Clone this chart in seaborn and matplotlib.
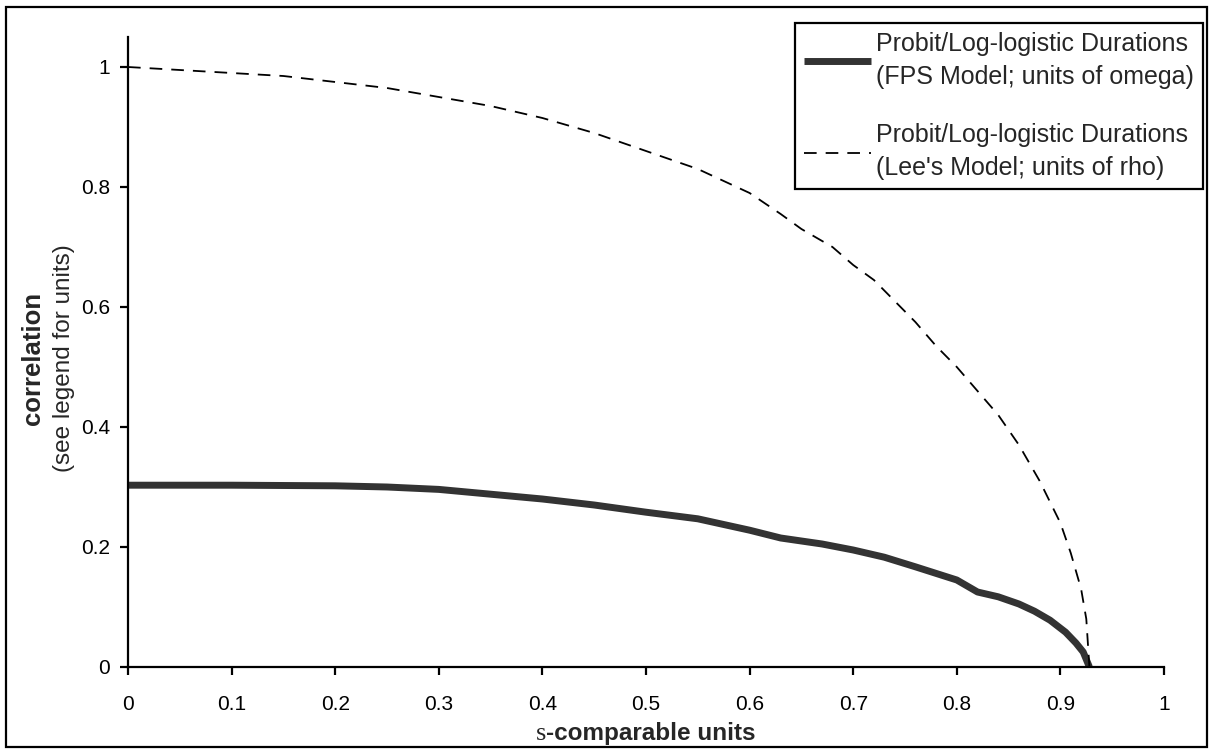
import numpy as np
import pandas as pd
import matplotlib
matplotlib.use("Agg")
import matplotlib.pyplot as plt
import seaborn as sns
from matplotlib.offsetbox import TextArea, HPacker, AnchoredOffsetbox
from matplotlib.patches import Rectangle

# ---- data ----
fps_x = [0.0, 0.1, 0.2, 0.25, 0.3, 0.35, 0.4, 0.45, 0.5, 0.55, 0.6, 0.63, 0.67, 0.7,
         0.73, 0.76, 0.8, 0.82, 0.84, 0.86, 0.875, 0.89, 0.905, 0.915, 0.922, 0.928]
fps_y = [0.303, 0.303, 0.302, 0.300, 0.296, 0.288, 0.280, 0.270, 0.258, 0.247, 0.228,
         0.215, 0.205, 0.195, 0.183, 0.167, 0.145, 0.125, 0.117, 0.105, 0.093, 0.078,
         0.058, 0.040, 0.025, 0.0]
lee_x = [0.0, 0.05, 0.1, 0.15, 0.2, 0.25, 0.3, 0.35, 0.4, 0.45, 0.5, 0.55, 0.6, 0.63,
         0.65, 0.68, 0.7, 0.72, 0.74, 0.76, 0.78, 0.8, 0.82, 0.84, 0.86, 0.88, 0.9,
         0.91, 0.92, 0.925, 0.928]
lee_y = [1.0, 0.995, 0.99, 0.985, 0.975, 0.965, 0.95, 0.935, 0.915, 0.89, 0.86, 0.83,
         0.79, 0.755, 0.73, 0.70, 0.67, 0.645, 0.61, 0.575, 0.535, 0.50, 0.46, 0.42,
         0.37, 0.31, 0.24, 0.19, 0.13, 0.08, 0.0]
fps_label = "Probit/Log-logistic Durations\n(FPS Model; units of omega)"
lee_label = "Probit/Log-logistic Durations\n(Lee's Model; units of rho)"
x_ticks = [0, 0.1, 0.2, 0.3, 0.4, 0.5, 0.6, 0.7, 0.8, 0.9, 1]
x_ticklabels = ["0", "0.1", "0.2", "0.3", "0.4", "0.5", "0.6", "0.7", "0.8", "0.9", "1"]
y_ticks = [0, 0.2, 0.4, 0.6, 0.8, 1]
y_ticklabels = ["0", "0.2", "0.4", "0.6", "0.8", "1"]

sns.set_style("ticks")
plt.rcParams["font.family"] = ["Liberation Sans", "DejaVu Sans"]

W, H = 1214, 753
fig = plt.figure(figsize=(W / 100, H / 100), dpi=100)
ax = fig.add_axes([128 / W, 1 - 667 / H, (1164 - 128) / W, (667 - 37) / H])

df_fps = pd.DataFrame({"x": fps_x, "y": fps_y})
df_lee = pd.DataFrame({"x": lee_x, "y": lee_y})
sns.lineplot(data=df_fps, x="x", y="y", ax=ax, color="#333333", linewidth=5,
             sort=False, label=fps_label, solid_capstyle="butt")
sns.lineplot(data=df_lee, x="x", y="y", ax=ax, color="black", linewidth=1.3,
             sort=False, label=lee_label)
ax.lines[1].set_dashes([7, 5])

ax.set_xlim(0, 1)
ax.set_ylim(0, 1.05)
ax.set_xticks(x_ticks)
ax.set_xticklabels(x_ticklabels)
ax.set_yticks(y_ticks)
ax.set_yticklabels(y_ticklabels)
for s in ["top", "right"]:
    ax.spines[s].set_visible(False)
for s in ["left", "bottom"]:
    ax.spines[s].set_linewidth(1.6)
    ax.spines[s].set_color("black")
ax.tick_params(axis="both", direction="out", length=6, width=1.6, colors="black",
               labelsize=15, pad=7)
ax.tick_params(axis="x", pad=14)
ax.set_xlabel("")
ax.set_ylabel("")

# y label (two lines, different weights)
ax.text(-0.092, 0.49, "correlation", rotation=90, ha="center", va="center",
        fontsize=18.5, fontweight="bold", transform=ax.transAxes)
ax.text(-0.062, 0.49, "(see legend for units)", rotation=90, ha="center",
        va="center", fontsize=17.5, transform=ax.transAxes)

# x label: symbol-font fallback "s" + bold text
ta1 = TextArea("s", textprops=dict(family="Liberation Serif", fontsize=19))
ta2 = TextArea("-comparable units", textprops=dict(fontsize=17.5, fontweight="bold"))
box = HPacker(children=[ta1, ta2], align="baseline", pad=0, sep=0)
anch = AnchoredOffsetbox(loc="center", child=box, pad=0, frameon=False,
                         bbox_to_anchor=(0.5, -0.105), bbox_transform=ax.transAxes,
                         borderpad=0)
ax.add_artist(anch)

# legend
ax.get_legend().remove()
handles, labels = ax.get_legend_handles_labels()
leg = fig.legend(handles, labels, loc="upper right",
                 bbox_to_anchor=(1203 / W, 1 - 23 / H), bbox_transform=fig.transFigure,
                 fontsize=18, frameon=True, fancybox=False, handlelength=2.7,
                 handletextpad=0.2, labelspacing=1.35, borderpad=0.35, borderaxespad=0)
for t in leg.get_texts():
    t.set_linespacing(1.5)
leg.get_frame().set_edgecolor("black")
leg.get_frame().set_linewidth(1.6)
leg.get_frame().set_facecolor("white")
leg.get_frame().set_alpha(1)

# figure border
fig.patches.append(Rectangle((6 / W, 6 / H), 1 - 13 / W, 1 - 13 / H, fill=False,
                             edgecolor="black", linewidth=1.6,
                             transform=fig.transFigure, figure=fig))

fig.savefig("out.png", dpi=100)
